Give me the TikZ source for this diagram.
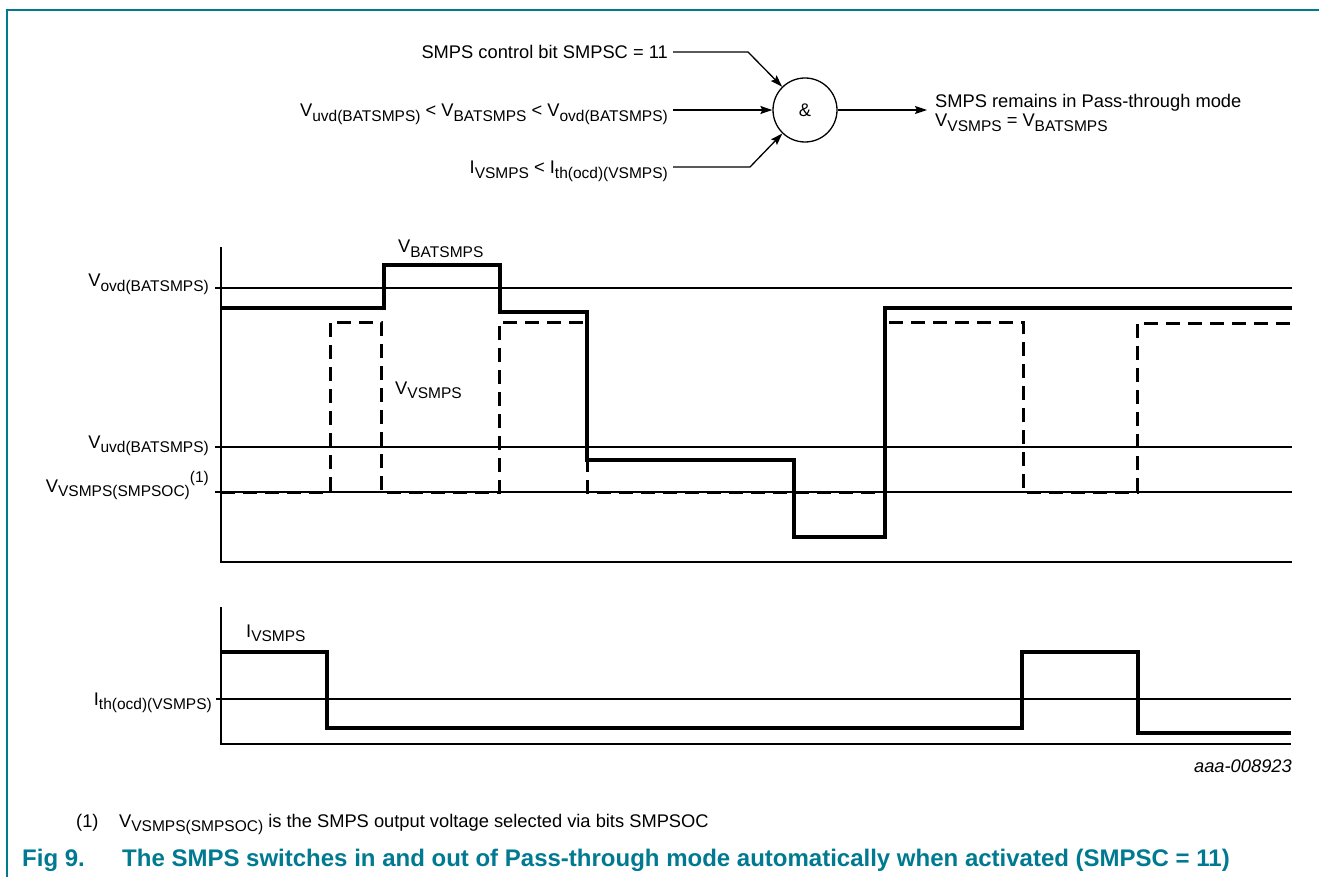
\documentclass[tikz,border=0pt]{standalone}
\usepackage{fontspec}
\setmainfont{Liberation Sans}
\usetikzlibrary{arrows.meta}
\definecolor{nxpteal}{RGB}{0,122,145}
\newcommand\sbs[1]{\raisebox{-0.22em}{\fontsize{15.5}{15.5}\selectfont #1}}
\newcommand\sps[1]{\raisebox{0.5em}{\fontsize{15.5}{15.5}\selectfont #1}}
\begin{document}
\begin{tikzpicture}[x=1pt,y=-1pt,
  font=\fontsize{18.3}{22}\selectfont,
  thinln/.style={line width=1.3pt},
  wave/.style={line width=3.3pt},
  dwave/.style={line width=3pt, dash pattern=on 14pt off 8pt},
  lbl/.style={inner sep=0pt, anchor=base east},
  lblw/.style={inner sep=0pt, anchor=base west},
  arr/.style={line width=1.3pt, -{Stealth[length=12pt,width=8pt,inset=2pt]}},
  capt/.style={inner sep=0pt, anchor=base west, text=nxpteal, font=\fontsize{24}{28}\selectfont\bfseries}]
\useasboundingbox (0,0) rectangle (1319,877);
% frame
\draw[nxpteal, line width=1.5pt] (7,877) -- (7,10) -- (1319,10);

% logic gate
\node[draw, circle, minimum size=64pt, inner sep=0pt, line width=1.3pt] (g) at (805,110) {\&};
\node[lbl] (in1) at (668,59) {SMPS control bit SMPSC = 11};
\node[lbl] (in2) at (668,117) {V\sbs{uvd(BATSMPS)} < V\sbs{BATSMPS} < V\sbs{ovd(BATSMPS)}};
\node[lbl] (in3) at (668,174) {I\sbs{VSMPS} < I\sbs{th(ocd)(VSMPS)}};
\coordinate (b1) at (748,52);
\coordinate (b3) at (750,167);
\draw[arr] ([xshift=5pt,yshift=7pt]in1.base east) -- (b1) -- (g);
\draw[arr] ([xshift=5pt,yshift=7pt]in2.base east) -- (g);
\draw[arr] ([xshift=5pt,yshift=7pt]in3.base east) -- (b3) -- (g);
\node[lblw] (out1) at (935,108) {SMPS remains in Pass-through mode};
\node[lblw] (out2) at (935,127) {V\sbs{VSMPS} = V\sbs{BATSMPS}};
\draw[arr] (g.east) -- ([xshift=-8pt]out1.west |- g.east);

% voltage plot
\draw[thinln] (221,247) -- (221,562) -- (1292,562);
\draw[thinln] (215,288) -- (1292,288);
\draw[thinln] (215,447) -- (1292,447);
\draw[thinln] (215,492) -- (1292,492);
\node[lbl] (lovd) at (209,287) {V\sbs{ovd(BATSMPS)}};
\node[lbl] (luvd) at (209,448) {V\sbs{uvd(BATSMPS)}};
\node[lbl] (lsoc) at (209,492) {V\sbs{VSMPS(SMPSOC)}\sps{(1)}};
\draw[wave] (221,308) -- (384,308) -- (384,265) -- (500,265) -- (500,312) -- (587,312)
  -- (587,460) -- (794,460) -- (794,537) -- (885,537) -- (885,308) -- (1292,308);
\draw[dwave] (221,492) -- (330,492) -- (330,322) -- (381,322) -- (381,492) -- (499,492)
  -- (499,322) -- (587,322) -- (587,492) -- (885,492) -- (885,322) -- (1023,322)
  -- (1023,492) -- (1137,492) -- (1137,323) -- (1292,323);
\node[lblw] (lbat) at (398,253) {V\sbs{BATSMPS}};
\node[lblw] (lvs) at (395,394) {V\sbs{VSMPS}};

% current plot
\draw[thinln] (221,607) -- (221,744) -- (1291,744);
\draw[thinln] (216,699) -- (1291,699);
\draw[wave] (221,652) -- (327,652) -- (327,728) -- (1022,728) -- (1022,652) -- (1138,652)
  -- (1138,733) -- (1291,733);
\node[lblw] (livs) at (246,637) {I\sbs{VSMPS}};
\node[lbl] (lith) at (212,705) {I\sbs{th(ocd)(VSMPS)}};

\node[lbl, font=\fontsize{18.3}{22}\selectfont\itshape] (code) at (1292,772) {aaa-008923};

% footnote and caption
\node[lblw] (fn1) at (76,827) {(1)};
\node[lblw] (fn2) at (119,827) {V\sbs{VSMPS(SMPSOC)} is the SMPS output voltage selected via bits SMPSOC};
\node[capt] (fig) at (22,866) {Fig 9.};
\node[capt] (cap) at (122,866) {The SMPS switches in and out of Pass-through mode automatically when activated (SMPSC = 11)};
\end{tikzpicture}
\end{document}
